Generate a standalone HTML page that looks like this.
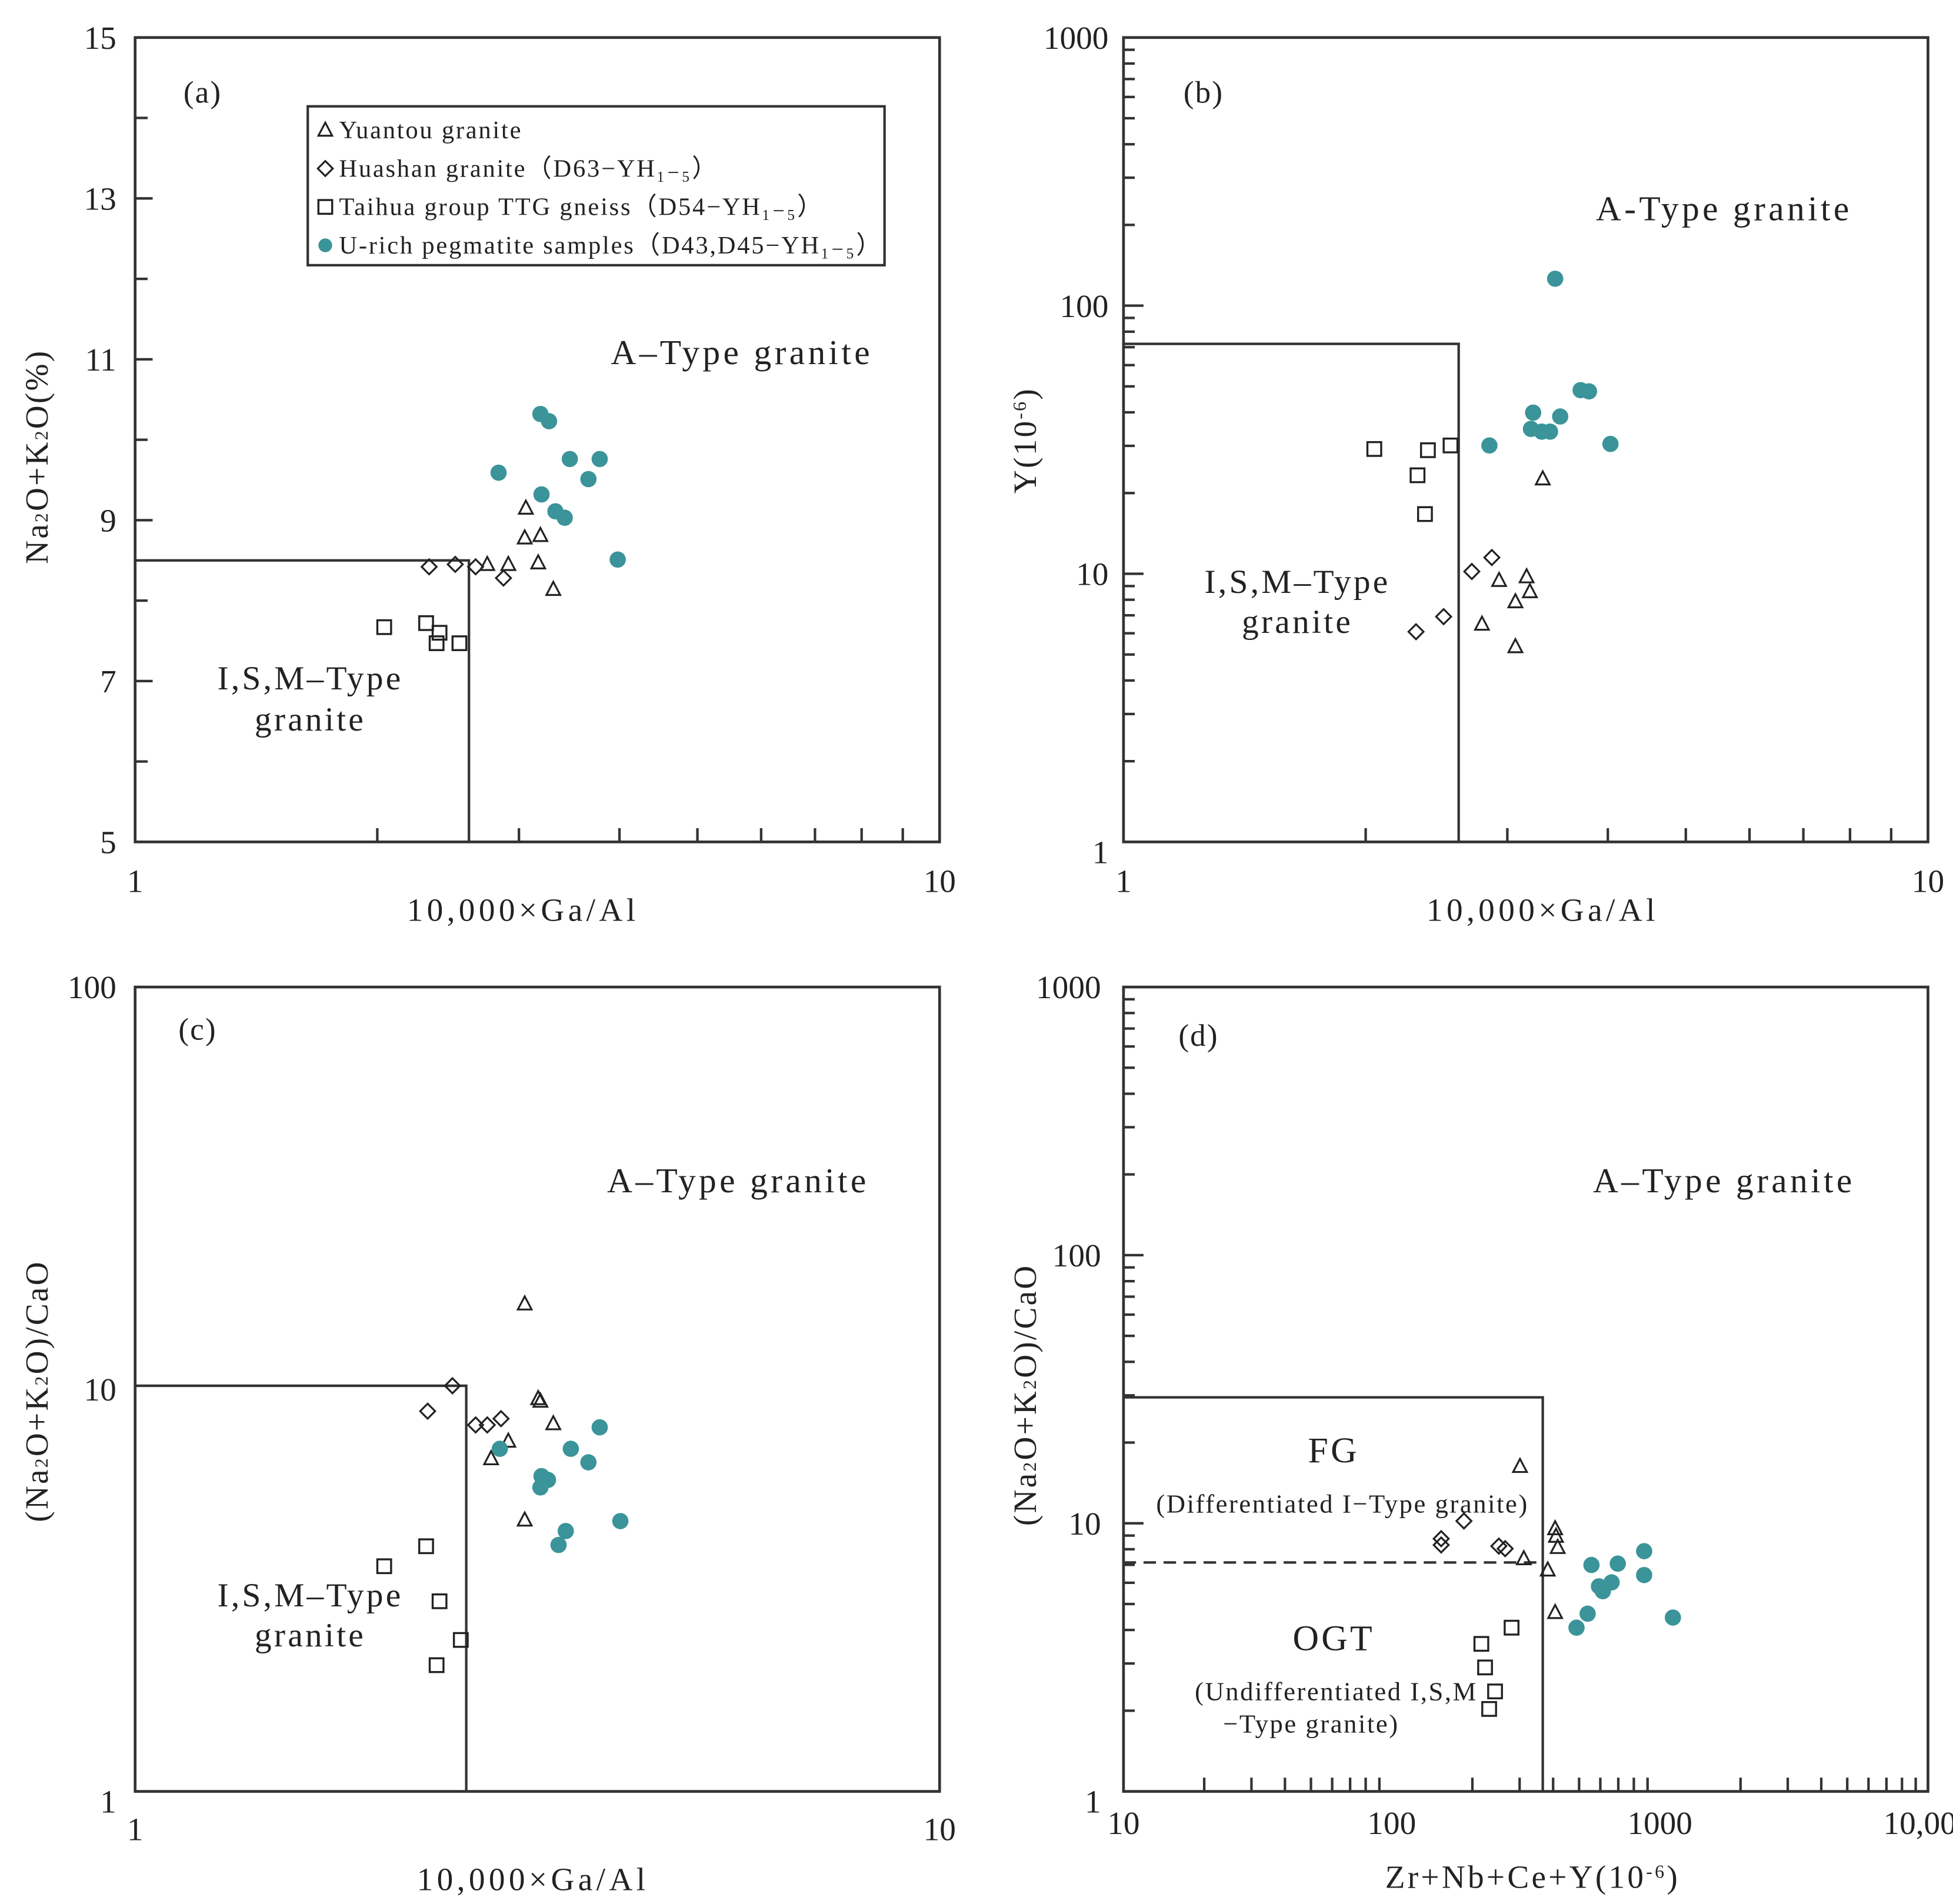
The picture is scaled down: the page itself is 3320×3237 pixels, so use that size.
<!DOCTYPE html>
<html><head><meta charset="utf-8"><style>
html,body{margin:0;padding:0;background:#fff}
svg{display:block}
text{font-family:"Liberation Serif",serif;fill:#222;letter-spacing:1px}
</style></head><body>
<svg id="fig" xmlns="http://www.w3.org/2000/svg" width="3320" height="3237" viewBox="0 0 1561 1522" preserveAspectRatio="none">
<rect width="1561" height="1522" fill="#fff"/>
</svg>
<script>
// ---- Data arrays (data coordinates) ----
const aTealX=[3.19,3.27,2.83,3.47,3.78,3.20,3.66,3.33,3.42,3.98];
const aTealY=[10.32,10.23,9.59,9.76,9.76,9.32,9.51,9.11,9.03,8.51];
const aTriX=[3.06,3.05,3.19,3.17,3.31,2.91,2.74];
const aTriY=[9.15,8.78,8.81,8.47,8.14,8.45,8.45];
const aDiaX=[2.32,2.50,2.65,2.87];
const aDiaY=[8.42,8.45,8.42,8.28];
const aSqX=[2.04,2.30,2.39,2.37,2.53];
const aSqY=[7.67,7.72,7.60,7.47,7.47];

const bTealX=[3.44,3.23,3.49,3.21,3.31,3.39,3.70,3.79,2.85,4.03];
const bTealY=[126,39.9,38.6,34.7,33.9,33.9,48.4,47.9,30.1,30.5];
const bTriX=[3.32,2.93,3.17,3.20,3.07,2.79,3.07];
const bTriY=[22.6,9.45,9.75,8.58,7.87,6.49,5.35];
const bDiaX=[2.71,2.87,2.50,2.31];
const bDiaY=[10.2,11.5,6.92,6.08];
const bSqX=[2.05,2.39,2.55,2.32,2.37];
const bSqY=[29.2,28.9,30.1,23.3,16.7];

const cTealX=[3.78,3.48,3.66,3.20,3.26,3.19,4.01,3.43,3.36,2.84];
const cTealY=[8.04,7.11,6.58,6.08,5.95,5.70,4.70,4.44,4.10,7.11];
const cTriX=[3.05,3.17,3.19,3.31,2.91,2.77,3.05];
const cTriY=[16.3,9.48,9.34,8.21,7.43,6.72,4.73];
const cDiaX=[2.48,2.31,2.65,2.74,2.85];
const cDiaY=[10.2,8.82,8.15,8.15,8.45];
const cSqX=[2.04,2.30,2.39,2.54,2.37];
const cSqY=[3.63,4.07,2.97,2.38,2.06];

const dTealX=[556,697,874,874,661,593,613,538,1119,489];
const dTealY=[6.99,7.07,7.87,6.41,6.02,5.82,5.58,4.60,4.45,4.08];
const dTriX=[301,407,410,416,311,382,407];
const dTriY=[16.3,9.55,8.95,8.13,7.38,6.70,4.65];
const dDiaX=[153,153,186,251,265];
const dDiaY=[8.76,8.30,10.2,8.22,8.04];
const dSqX=[216,223,243,231,280];
const dSqY=[3.55,2.90,2.36,2.03,4.08];

const aXTicks=["1","10"], aYTicks=["5","7","9","11","13","15"];
const bYTicks=["1","10","100","1000"];
const cYTicks=["1","10","100"];
const dXTicks=["10","100","1000","10,000"];

// ---- helpers ----
const NS="http://www.w3.org/2000/svg";
const svg=document.getElementById('fig');
function el(tag,attrs,parent){const e=document.createElementNS(NS,tag);for(const k in attrs)e.setAttribute(k,attrs[k]);(parent||svg).appendChild(e);return e;}
function txt(s,x,y,size,anchor,parent,name,ls){const t=el('text',{x:x,y:y,'font-size':size,'text-anchor':anchor||'middle'},parent);t.textContent=s;
if(ls!==undefined)t.style.letterSpacing=ls+'px';


return t;}
function logS(min,max,p0,p1){const a=Math.log10(min),b=Math.log10(max);return v=>p0+(Math.log10(v)-a)/(b-a)*(p1-p0);}
function linS(min,max,p0,p1){return v=>p0+(v-min)/(max-min)*(p1-p0);}
const TEAL="#3a9499";
function marker(kind,cx,cy,g){
  let m;
  if(kind==='circle'){m=el('circle',{cx:cx,cy:cy,r:6.5,fill:TEAL},g);}
  else if(kind==='tri'){m=el('polygon',{points:`${cx},${cy-6} ${cx-5.5},${cy+4.5} ${cx+5.5},${cy+4.5}`,fill:'none',stroke:'#222','stroke-width':1.5},g);}
  else if(kind==='dia'){m=el('polygon',{points:`${cx},${cy-6} ${cx+6},${cy} ${cx},${cy+6} ${cx-6},${cy}`,fill:'none',stroke:'#222','stroke-width':1.5},g);}
  else {m=el('rect',{x:cx-5.5,y:cy-5.5,width:11,height:11,fill:'none',stroke:'#222','stroke-width':1.6},g);}
  return m;
}
function series(kind,xs,ys,X,Y,g,name){
  for(let i=0;i<xs.length;i++){
    const m=marker(kind,X(xs[i]),Y(ys[i]),g);
    
    
  }
}
function frame(x0,y0,x1,y1,g){const r=el('rect',{x:x0,y:y0,width:x1-x0,height:y1-y0,fill:'none',stroke:'#333','stroke-width':2.2},g);

}
function line(pts,g,dash,name){const p=el('polyline',{points:pts.map(q=>q.join(',')).join(' '),fill:'none',stroke:'#333','stroke-width':2,'stroke-dasharray':dash||'none'},g);

}
function tick(x1,y1,x2,y2,g){const t=el('line',{x1:x1,y1:y1,x2:x2,y2:y2,stroke:'#333','stroke-width':2},g);

}
function logXTicks(X,min,max,yb,g){for(let d=min;d<max;d*=10)for(let k=2;k<=9;k++)tick(X(d*k),yb,X(d*k),yb-11,g);}
function logYTicks(Y,min,max,xl,g){for(let d=min;d<max;d*=10){for(let k=1;k<=9;k++){const L=k===1?16:9;if(d*k>min)tick(xl,Y(d*k),xl+L,Y(d*k),g);}}}
function group(name){const g=el('g',{});return g;}
function ytitle(parts,x,y,g,name){const t=el('text',{x:0,y:0,'font-size':26,'text-anchor':'middle',transform:`translate(${x},${y}) rotate(-90)`},g);
t.style.letterSpacing='1.5px';

parts.forEach(p=>{const s=el('tspan',{'font-size':p[1]?15:26,'baseline-shift':p[1]==='sup'?'super':'0'},t);s.textContent=p[0];});return t;}

// ---- Panel A ----
(function(){
  const g=group('panel-a');
  const X=logS(1,10,108,751),Y=linS(5,15,673,30);
  frame(108,30,751,673,g);
  for(let v=6;v<=14;v++)tick(108,Y(v),108+(v%2?14:10),Y(v),g);
  logXTicks(X,1,10,673,g);
  line([[108,Y(8.5)],[X(2.6),Y(8.5)],[X(2.6),673]],g,null,'boundary-line');
  aYTicks.forEach(s=>txt(s,93,Y(+s)+9,26,'end',g,'y-tick-label',0));
  aXTicks.forEach(s=>txt(s,X(+s),713,26,'middle',g,'x-tick-label',0));
  txt('10,000×Ga/Al',418,736,26,'middle',g,'x-axis-title',3);
  ytitle([['Na'],['2',1],['O+K'],['2',1],['O(%)']],38,365,g,'y-axis-title');
  txt('(a)',162,82,25,'middle',g,'panel-label');
  txt('A–Type  granite',593,291,28,'middle',g,'region-label-a-type',2.5);
  txt('I,S,M–Type',248,551,27,'middle',g,'region-label-ism',2);
  txt('granite',248,584,27,'middle',g,'region-label-ism',2);
  series('sq',aSqX,aSqY,X,Y,g,'taihua-point');
  series('dia',aDiaX,aDiaY,X,Y,g,'huashan-point');
  series('tri',aTriX,aTriY,X,Y,g,'yuantou-point');
  series('circle',aTealX,aTealY,X,Y,g,'pegmatite-point');
  // legend
  const lg=group('legend');
  const r=el('rect',{x:246,y:85,width:461,height:127,fill:'#fff',stroke:'#333','stroke-width':2},lg);
  
  const items=[['tri','Yuantou  granite'],['dia','Huashan granite（D63−YH₁₋₅）'],['sq','Taihua group TTG gneiss（D54−YH₁₋₅）'],['circle','U-rich pegmatite samples（D43,D45−YH₁₋₅）']];
  items.forEach((it,i)=>{const y=104+i*30.7;const m=marker(it[0],260,y,lg);
    if(it[0]==='circle')m.setAttribute('r',5.5);
    txt(it[1],271,y+6.5,20,'start',lg,'legend-entry',1.3);});
})();

// ---- Panel B ----
(function(){
  const g=group('panel-b');
  const X=logS(1,10,898,1541),Y=logS(1,1000,673,30);
  frame(898,30,1541,673,g);
  logYTicks(Y,1,1000,898,g);
  logXTicks(X,1,10,673,g);
  line([[898,Y(72)],[X(2.61),Y(72)],[X(2.61),673]],g,null,'boundary-line');
  bYTicks.forEach(s=>txt(s,886,Y(+s)+9+(s==='1'?8:0),26,'end',g,'y-tick-label',0));
  aXTicks.forEach(s=>txt(s,X(+s),713,26,'middle',g,'x-tick-label',0));
  txt('10,000×Ga/Al',1233,736,26,'middle',g,'x-axis-title',3);
  ytitle([['Y(10'],['-6','sup'],[')']],828,352,g,'y-axis-title');
  txt('(b)',962,82,25,'middle',g,'panel-label');
  txt('A-Type  granite',1378,176,28,'middle',g,'region-label-a-type',2.5);
  txt('I,S,M–Type',1037,474,27,'middle',g,'region-label-ism',2);
  txt('granite',1037,506,27,'middle',g,'region-label-ism',2);
  series('sq',bSqX,bSqY,X,Y,g,'taihua-point');
  series('dia',bDiaX,bDiaY,X,Y,g,'huashan-point');
  series('tri',bTriX,bTriY,X,Y,g,'yuantou-point');
  series('circle',bTealX,bTealY,X,Y,g,'pegmatite-point');
})();

// ---- Panel C ----
(function(){
  const g=group('panel-c');
  const X=logS(1,10,108,751),Y=logS(1,100,1432,789);
  frame(108,789,751,1432,g);
  line([[108,Y(10.2)],[X(2.58),Y(10.2)],[X(2.58),1432]],g,null,'boundary-line');
  cYTicks.forEach(s=>txt(s,93,Y(+s)+9+(s==='1'?8:0),26,'end',g,'y-tick-label',0));
  aXTicks.forEach(s=>txt(s,X(+s),1471,26,'middle',g,'x-tick-label',0));
  txt('10,000×Ga/Al',426,1511,26,'middle',g,'x-axis-title',3);
  ytitle([['(Na'],['2',1],['O+K'],['2',1],['O)/CaO']],38,1112,g,'y-axis-title');
  txt('(c)',158,831,25,'middle',g,'panel-label');
  txt('A–Type  granite',590,953,28,'middle',g,'region-label-a-type',2.5);
  txt('I,S,M–Type',248,1284,27,'middle',g,'region-label-ism',2);
  txt('granite',248,1316,27,'middle',g,'region-label-ism',2);
  series('sq',cSqX,cSqY,X,Y,g,'taihua-point');
  series('dia',cDiaX,cDiaY,X,Y,g,'huashan-point');
  series('tri',cTriX,cTriY,X,Y,g,'yuantou-point');
  series('circle',cTealX,cTealY,X,Y,g,'pegmatite-point');
})();

// ---- Panel D ----
(function(){
  const g=group('panel-d');
  const X=logS(10,10000,898,1541),Y=logS(1,1000,1432,789);
  frame(898,789,1541,1432,g);
  logYTicks(Y,1,1000,898,g);
  logXTicks(X,10,10000,1432,g);
  line([[898,Y(29.5)],[X(366),Y(29.5)],[X(366),1432]],g,null,'boundary-line');
  line([[898,Y(7.14)],[X(366),Y(7.14)]],g,'10,6','fg-ogt-divider');
  bYTicks.forEach(s=>txt(s,880,Y(+s)+9+(s==='1'?8:0),26,'end',g,'y-tick-label',0));
  dXTicks.forEach(s=>txt(s,X(+s.replace(',','')),1466,26,'middle',g,'x-tick-label',0));
  ytitle([['(Na'],['2',1],['O+K'],['2',1],['O)/CaO']],828,1115,g,'y-axis-title');
  const xt=el('text',{x:1225,y:1509,'font-size':26,'text-anchor':'middle'},g);
  xt.style.letterSpacing='2px';
  
  
  [['Zr+Nb+Ce+Y(10',0],['-6',1],[')',0]].forEach(p=>{const s=el('tspan',{'font-size':p[1]?15:26,'baseline-shift':p[1]?'super':'0'},xt);s.textContent=p[0];});
  txt('(d)',958,836,25,'middle',g,'panel-label');
  txt('A–Type  granite',1378,953,28,'middle',g,'region-label-a-type',2.5);
  txt('FG',1066,1169,29,'middle',g,'region-label-fg',2);
  txt('(Differentiated I−Type  granite)',1073,1209,21,'middle',g,'region-label-fg-desc',1.2);
  txt('OGT',1066,1319,29,'middle',g,'region-label-ogt',2);
  txt('(Undifferentiated I,S,M',1068,1359,21,'middle',g,'region-label-ogt-desc',1.2);
  txt('−Type  granite)',1048,1385,21,'middle',g,'region-label-ogt-desc',1.2);
  series('sq',dSqX,dSqY,X,Y,g,'taihua-point');
  series('dia',dDiaX,dDiaY,X,Y,g,'huashan-point');
  series('tri',dTriX,dTriY,X,Y,g,'yuantou-point');
  series('circle',dTealX,dTealY,X,Y,g,'pegmatite-point');
})();
</script>
</body></html>
